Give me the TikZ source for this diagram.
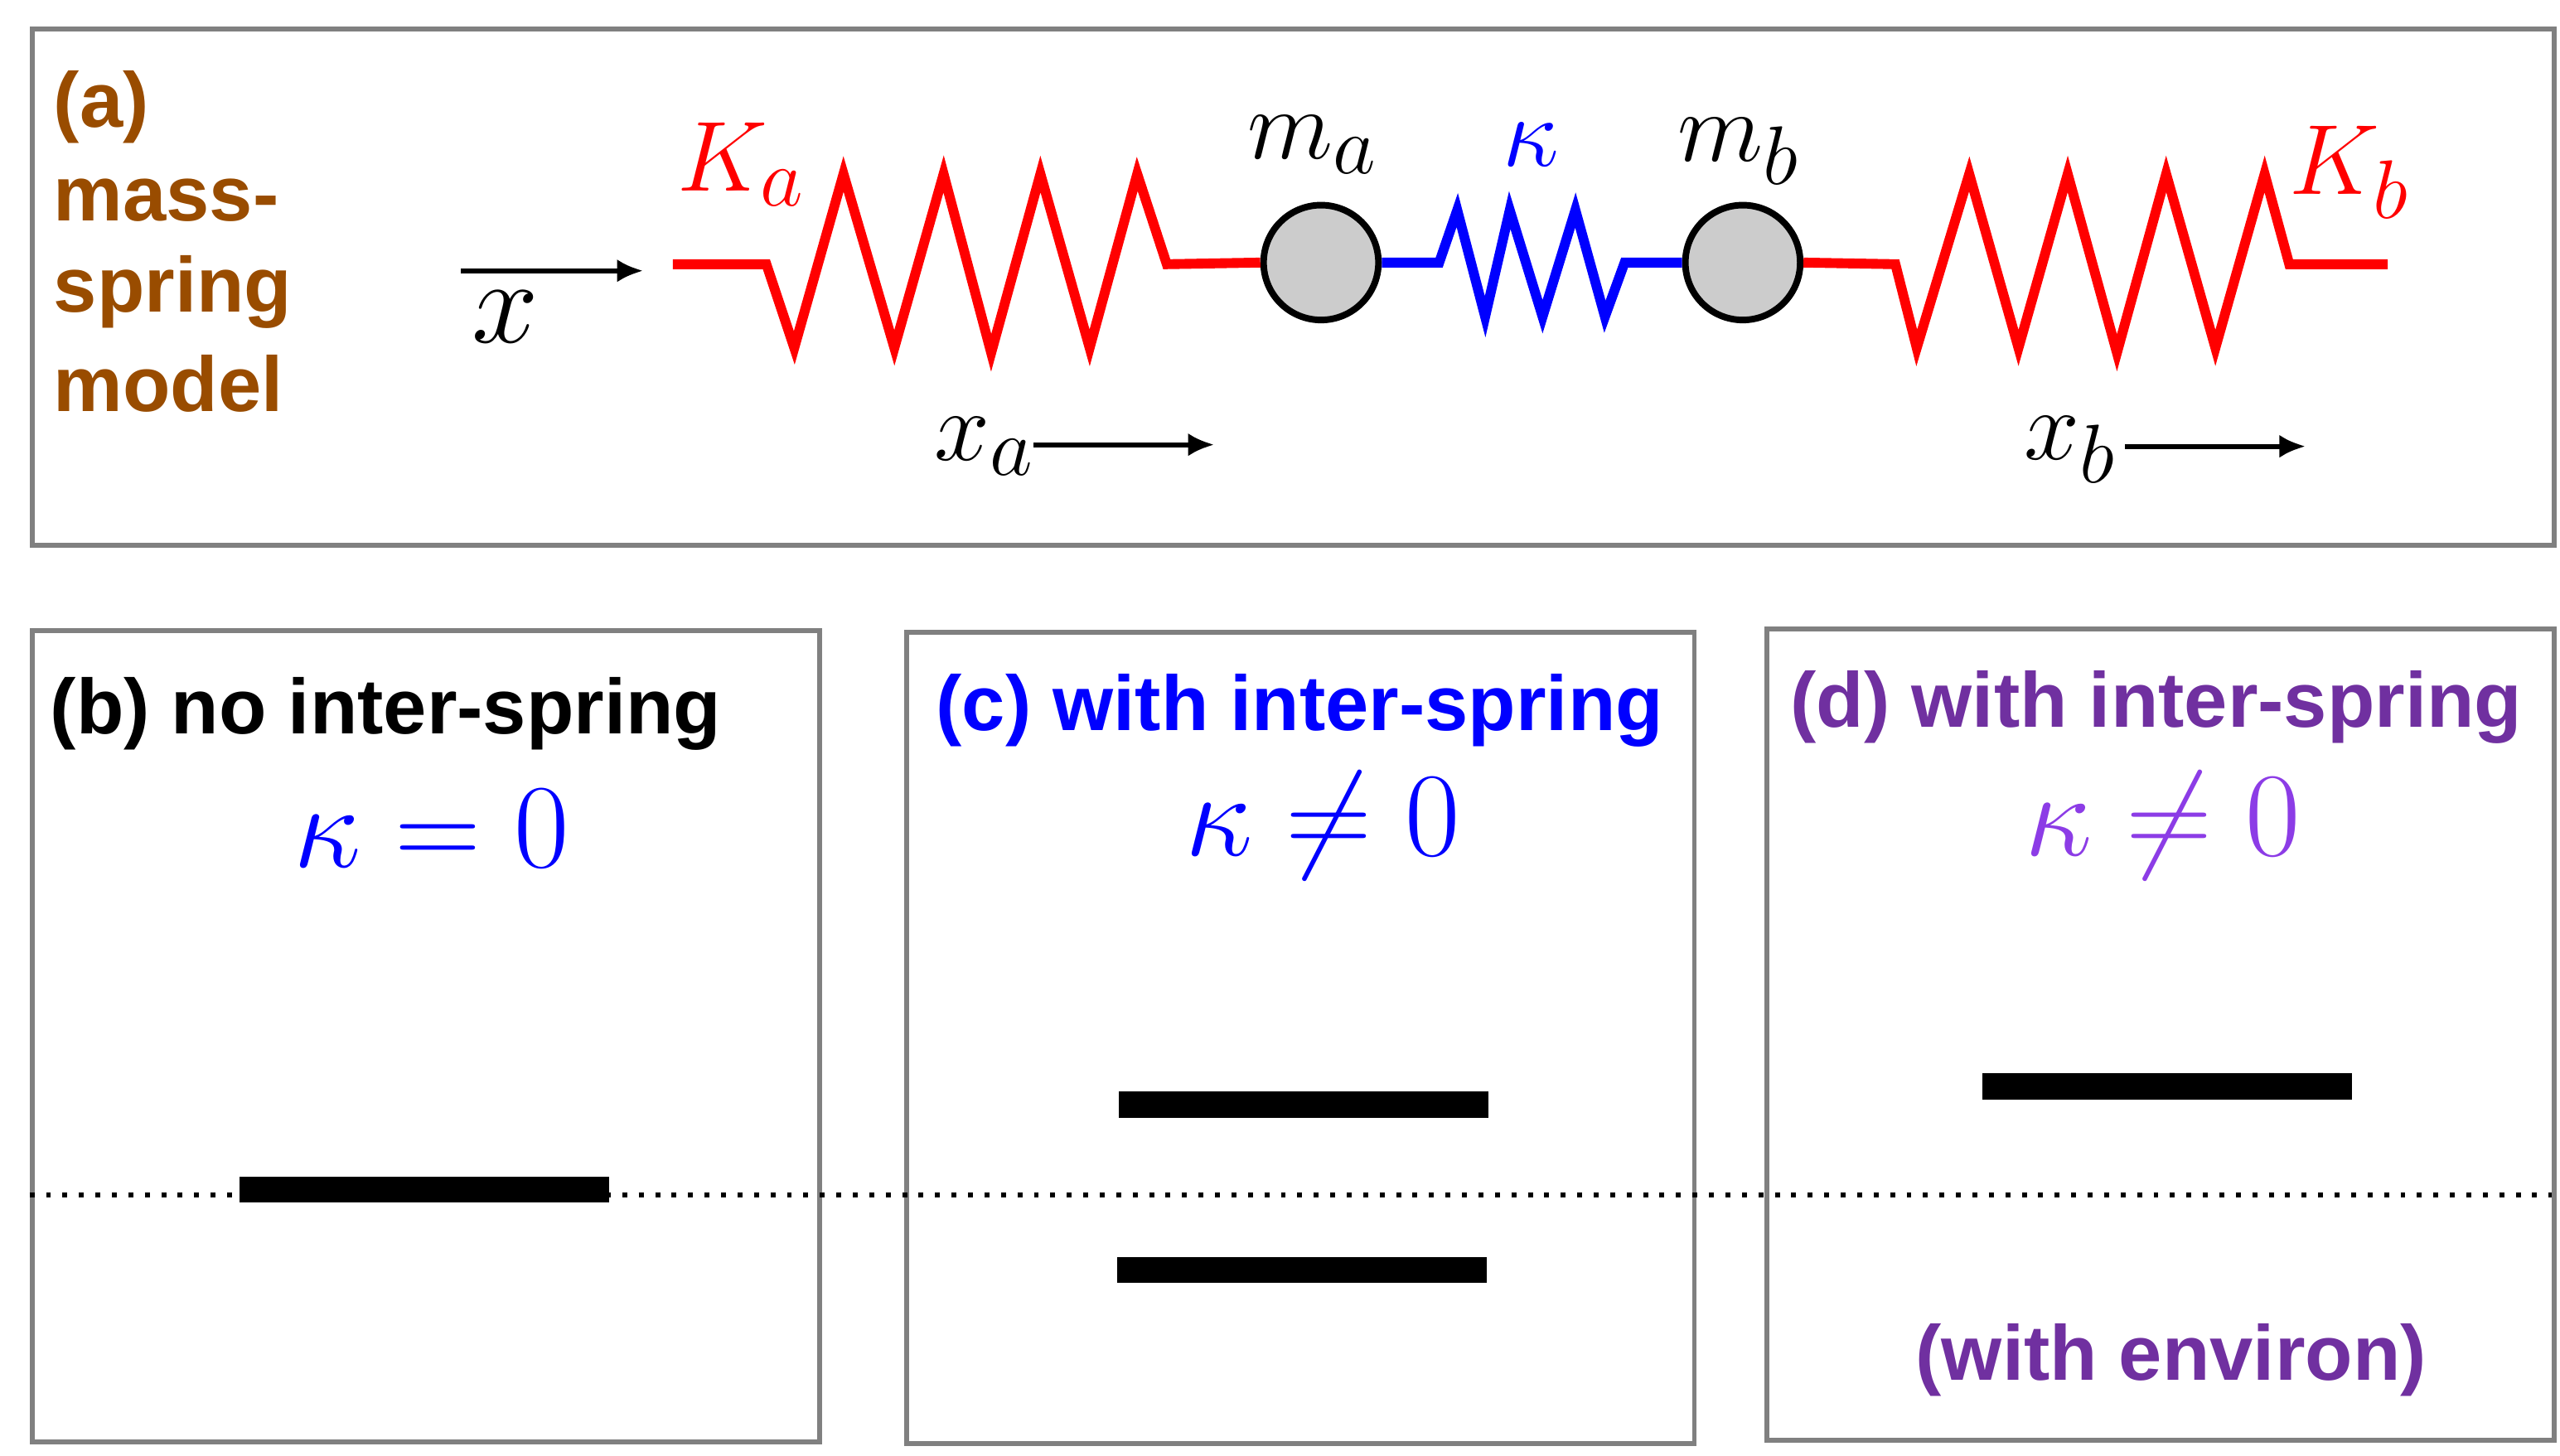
\documentclass[tikz,border=0pt]{standalone}
\usepackage{fontspec}
\setmainfont{Liberation Sans}
\usetikzlibrary{arrows.meta}
\definecolor{brn}{RGB}{153,76,0}
\definecolor{pur}{RGB}{112,48,160}
\definecolor{vio}{RGB}{140,60,230}
\definecolor{frame}{RGB}{128,128,128}
\begin{document}
\begin{tikzpicture}[x=0.01cm,y=-0.01cm,
  box/.style={draw=frame,line width=3*0.01cm},
  red spring/.style={draw=red,line width=6*0.01cm,line join=miter},
  blue spring/.style={draw=blue,line width=6*0.01cm},
  mass/.style={circle,draw=black,fill=black!20,line width=4*0.01cm,minimum size=70*0.01cm,inner sep=0},
  lbl/.style={font=\bfseries\fontsize{13.5}{16}\selectfont,inner sep=0},
  sym/.style={font=\fontsize{19}{22}\selectfont,inner sep=0},
  big/.style={font=\fontsize{22}{26}\selectfont,inner sep=0},
  arr/.style={-{Latex[length=16*0.01cm,width=14*0.01cm]},line width=3*0.01cm},
  bar/.style={line width=16*0.01cm}]
\useasboundingbox (0,0) rectangle (1560,887);
% panel a
\node[box,minimum width=1537*0.01cm,minimum height=315*0.01cm,anchor=north west,inner sep=0] (pa) at (18,16) {};
\node[lbl,text=brn,anchor=west] (ta) at (32,65) {(a)};
\node[lbl,text=brn,anchor=west] (tm1) at (32,122) {mass-};
\node[lbl,text=brn,anchor=west] (tm2) at (32,178) {spring};
\node[lbl,text=brn,anchor=west] (tm3) at (32,234) {model};
% masses
\node[mass] (ma) at (805,160) {};
\node[mass] (mb) at (1062,160) {};
\coordinate (la) at (410,161);
\coordinate (rb) at (1455,161);
% left spring
\draw[red spring] (la) -- (467,161) -- (484,212) -- (514,106) -- (545,212) -- (575,106) -- (604,215) -- (634,106) -- (664,212) -- (693,106) -- (711,161) -- (ma.west);
% middle spring
\draw[blue spring] (ma.east) -- (877,160) -- (888,128) -- (905,193) -- (920,128) -- (940,193) -- (960,128) -- (978,193) -- (990,160) -- (mb.west);
% right spring
\draw[red spring] (mb.east) -- (1155,161) -- (1168,212) -- (1200,106) -- (1230,212) -- (1260,106) -- (1290,215) -- (1320,106) -- (1350,212) -- (1380,106) -- (1395,161) -- (rb);
% labels
\node[sym,text=red] (Ka) at (452,100) {$K_a$};
\node[sym] (mal) at (800,88) {$m_a$};
\node[sym,text=blue] (kap) at (933,88) {$\kappa$};
\node[sym] (mbl) at (1060,92) {$m_b$};
\node[sym,text=red] (Kb) at (1432,105) {$K_b$};
% x arrows
\coordinate (x0) at (281,165); \coordinate (x1) at (392,165);
\draw[arr] (x0) -- (x1);
\node[big] (xl) at (308,193) {$x$};
\node[sym] (xa) at (600,272) {$x_a$};
\coordinate (xa0) at (630,271); \coordinate (xa1) at (740,271);
\draw[arr] (xa0) -- (xa1);
\node[sym] (xb) at (1262,274) {$x_b$};
\coordinate (xb0) at (1295,272); \coordinate (xb1) at (1405,272);
\draw[arr] (xb0) -- (xb1);
% bottom panels
\node[box,minimum width=480*0.01cm,minimum height=494*0.01cm,anchor=north west,inner sep=0] (pb) at (18,383) {};
\node[box,minimum width=480*0.01cm,minimum height=494*0.01cm,anchor=north west,inner sep=0] (pc) at (551,384) {};
\node[box,minimum width=480*0.01cm,minimum height=494*0.01cm,anchor=north west,inner sep=0] (pd) at (1075,382) {};
\coordinate (d0) at (18,728); \coordinate (d1) at (1555,728);
\draw[dotted,line width=3*0.01cm] (d0) -- (d1);
\node[lbl,anchor=west] (tb) at (30,435) {(b) no inter-spring};
\node[big,text=blue] (kb) at (263,505) {$\kappa=0$};
\coordinate (b0) at (146,725); \coordinate (b1) at (371,725);
\draw[bar] (b0) -- (b1);
\node[lbl,text=blue] (tc) at (792,433) {(c) with inter-spring};
\node[big,text=blue] (kc) at (806,503) {$\kappa\neq0$};
\coordinate (c0) at (682,673); \coordinate (c1) at (907,673);
\coordinate (c2) at (681,774); \coordinate (c3) at (906,774);
\draw[bar] (c0) -- (c1);
\draw[bar] (c2) -- (c3);
\node[lbl,text=pur] (td) at (1314,431) {(d) with inter-spring};
\node[big,text=vio] (kd) at (1318,503) {$\kappa\neq0$};
\coordinate (e0) at (1208,662); \coordinate (e1) at (1433,662);
\draw[bar] (e0) -- (e1);
\node[lbl,text=pur] (te) at (1323,829) {(with environ)};
\end{tikzpicture}
\end{document}
